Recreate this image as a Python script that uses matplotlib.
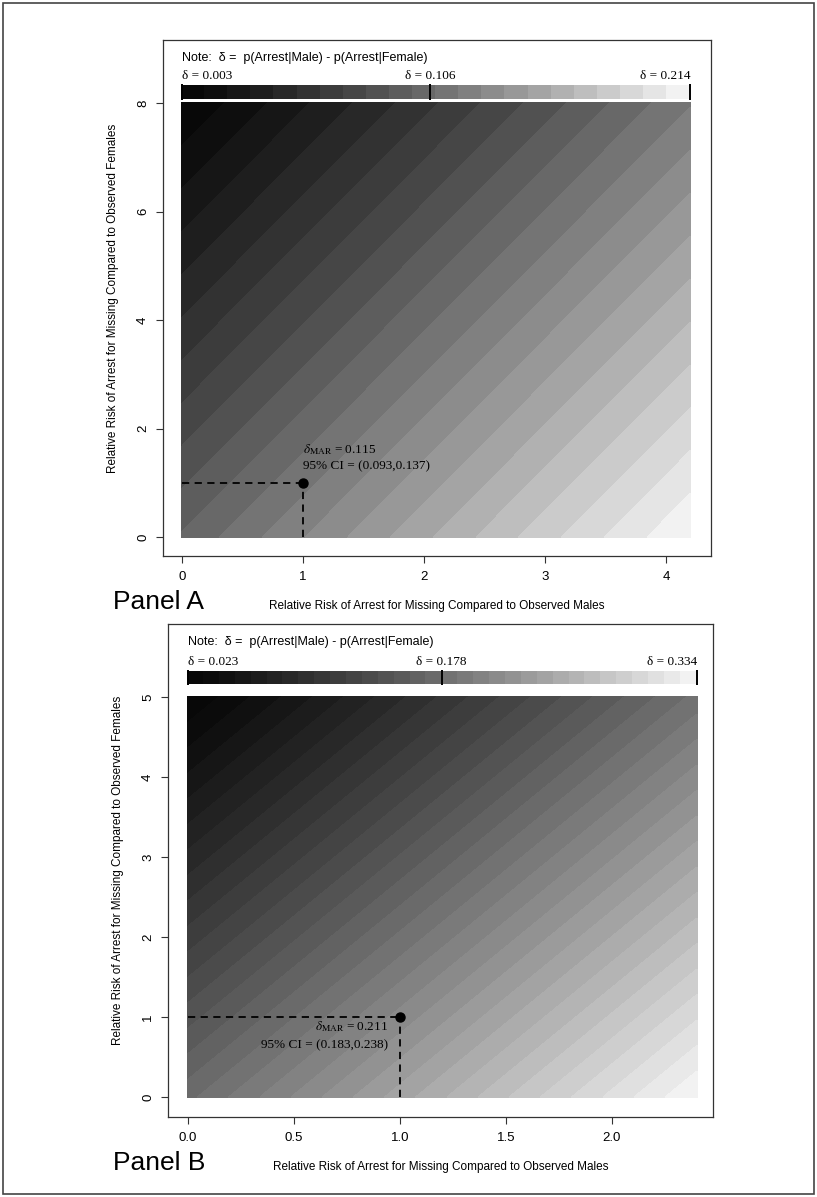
import numpy as np
import matplotlib
matplotlib.use("Agg")
import matplotlib.pyplot as plt
from matplotlib.patches import Rectangle

plt.rcParams["font.family"] = ["Liberation Sans", "DejaVu Sans"]
plt.rcParams["mathtext.fontset"] = "stix"

W, H = 817, 1197

# ---- data ----
a_xticks = [0, 1, 2, 3, 4]
a_yticks = [0, 2, 4, 6, 8]
a_rr_max = (4.2, 8.0)               # male RR max, female RR max
a_delta_labels = [0.003, 0.106, 0.214]
a_delta_mar = 0.115
a_ci = (0.093, 0.137)
a_nlevels = 22

b_xticks = [0.0, 0.5, 1.0, 1.5, 2.0]
b_yticks = [0, 1, 2, 3, 4, 5]
b_rr_max = (2.4, 5.0)
b_delta_labels = [0.023, 0.178, 0.334]
b_delta_mar = 0.211
b_ci = (0.183, 0.238)
b_nlevels = 32

mar_point = (1.0, 1.0)

xlab = "Relative Risk of Arrest for Missing Compared to Observed Males"
ylab = "Relative Risk of Arrest for Missing Compared to Observed Females"
note = "Note:  \u03b4 =  p(Arrest|Male) - p(Arrest|Female)"


def px_axes(fig, left, right, top, bottom):
    return fig.add_axes([left / W, 1 - bottom / H, (right - left) / W, (bottom - top) / H])


def draw_panel(fig, frame, xmap, ymap, xticks, yticks, rr_max, dlabels, dmar, ci,
               nlev, cb_px, label_side, panel_name, xtick_fmt):
    left, right, top, bottom = frame
    x0px, xppu = xmap
    y0px, yppu = ymap
    ax = px_axes(fig, left, right, top, bottom)
    ax.set_xlim((left - x0px) / xppu, (right - x0px) / xppu)
    ax.set_ylim((y0px - bottom) / yppu, (y0px - top) / yppu)

    # plane through the three labelled values: (0, ymax)->min, (xmax, 0)->max, MAR point
    xmax, ymax = rr_max
    A = np.array([[1, 0, ymax], [1, xmax, 0], [1, mar_point[0], mar_point[1]]])
    coef = np.linalg.solve(A, np.array([dlabels[0], dlabels[2], dmar]))
    gx, gy = np.meshgrid(np.linspace(0, xmax, 300), np.linspace(0, ymax, 300))
    dz = coef[0] + coef[1] * gx + coef[2] * gy

    levels = np.linspace(dlabels[0], dlabels[2], nlev + 1)
    t = np.linspace(0, 1, nlev)
    grays = 0.03 + 0.92 * t ** 1.2
    colors = [(g, g, g) for g in grays]
    cs = ax.contourf(gx, gy, dz, levels=levels, colors=colors, antialiased=False)
    cs.set_edgecolor("face")
    cs.set_linewidth(0.4)

    # colour key drawn above the surface
    cb_bot = (y0px - cb_px[1]) / yppu
    cb_top = (y0px - cb_px[0]) / yppu
    edges = np.linspace(0, xmax, nlev + 1)
    for i in range(nlev):
        ax.add_patch(Rectangle((edges[i], cb_bot), edges[i + 1] - edges[i], cb_top - cb_bot,
                               facecolor=colors[i], edgecolor=colors[i], lw=0.3,
                               antialiased=False, clip_on=False))
    frac = [(d - dlabels[0]) / (dlabels[2] - dlabels[0]) for d in dlabels]
    ext = 2 / yppu
    for f in frac:
        ax.plot([f * xmax, f * xmax], [cb_bot - ext, cb_top + ext], color="black", lw=1.4,
                solid_capstyle="butt", clip_on=False)
    lab_y = cb_top + 4 / yppu
    for f, d, ha in zip(frac, dlabels, ["left", "center", "right"]):
        ax.text(f * xmax, lab_y, "\u03b4 = %.3f" % d, ha=ha, va="bottom",
                family=["Liberation Serif"], fontsize=9.5)
    ax.text(0, (y0px - (top + 18)) / yppu, note, ha="left", va="center", fontsize=9)

    # MAR point with dashed guides
    px, py = mar_point
    ax.plot([0, px], [py, py], ls=(0, (4, 3)), color="black", lw=1.3)
    ax.plot([px, px], [0, py], ls=(0, (4, 3)), color="black", lw=1.3)
    ax.plot(px, py, "o", color="black", ms=6.5)
    t1 = r"$\delta_{\mathrm{MAR}}$" + " = %.3f" % dmar
    t2 = "95%% CI = (%.3f,%.3f)" % ci
    if label_side == "above":
        ax.text(px, py + 16 / yppu, t2, ha="left", va="center", family=["Liberation Serif"], fontsize=9.5)
        ax.text(px, py + 33 / yppu, t1, ha="left", va="center", family=["Liberation Serif"], fontsize=9.5)
    else:
        ax.text(px - 12 / xppu, py - 10 / yppu, t1, ha="right", va="center", family=["Liberation Serif"], fontsize=9.5)
        ax.text(px - 12 / xppu, py - 28 / yppu, t2, ha="right", va="center", family=["Liberation Serif"], fontsize=9.5)

    ax.set_xticks(xticks)
    ax.set_xticklabels([xtick_fmt % v for v in xticks])
    ax.set_yticks(yticks)
    ax.set_yticklabels([str(v) for v in yticks], rotation=90, va="center")
    ax.tick_params(direction="out", length=5, width=0.8, labelsize=9.5, color="#333333", pad=6)
    ax.tick_params(axis="y", pad=5)
    for s in ax.spines.values():
        s.set_color("#333333")
        s.set_linewidth(0.9)

    cx = (left + right) / 2
    fig.text(cx / W, 1 - (bottom + 50) / H, xlab, ha="center", va="center", fontsize=8.5)
    fig.text((left - 50) / W, 1 - ((top + bottom) / 2) / H, ylab, ha="center", va="center",
             rotation=90, fontsize=8.5)
    fig.text(113 / W, 1 - (bottom + 46) / H, panel_name, ha="left", va="center", fontsize=19)
    return ax


fig = plt.figure(figsize=(W / 100, H / 100), dpi=100)
fig.add_artist(Rectangle((3 / W, 3 / H), (W - 6) / W, (H - 6) / H, transform=fig.transFigure,
                         fill=False, edgecolor="#444444", lw=1.2))

draw_panel(fig, (163, 711, 40, 556), (182, 121.0), (537, 54.25), a_xticks, a_yticks, a_rr_max,
           a_delta_labels, a_delta_mar, a_ci, a_nlevels, (86, 98), "above", "Panel A", "%d")
draw_panel(fig, (168, 713, 624, 1117), (188, 212.0), (1097, 80.0), b_xticks, b_yticks, b_rr_max,
           b_delta_labels, b_delta_mar, b_ci, b_nlevels, (672, 683), "below", "Panel B", "%.1f")

fig.savefig("out.png", dpi=100)
